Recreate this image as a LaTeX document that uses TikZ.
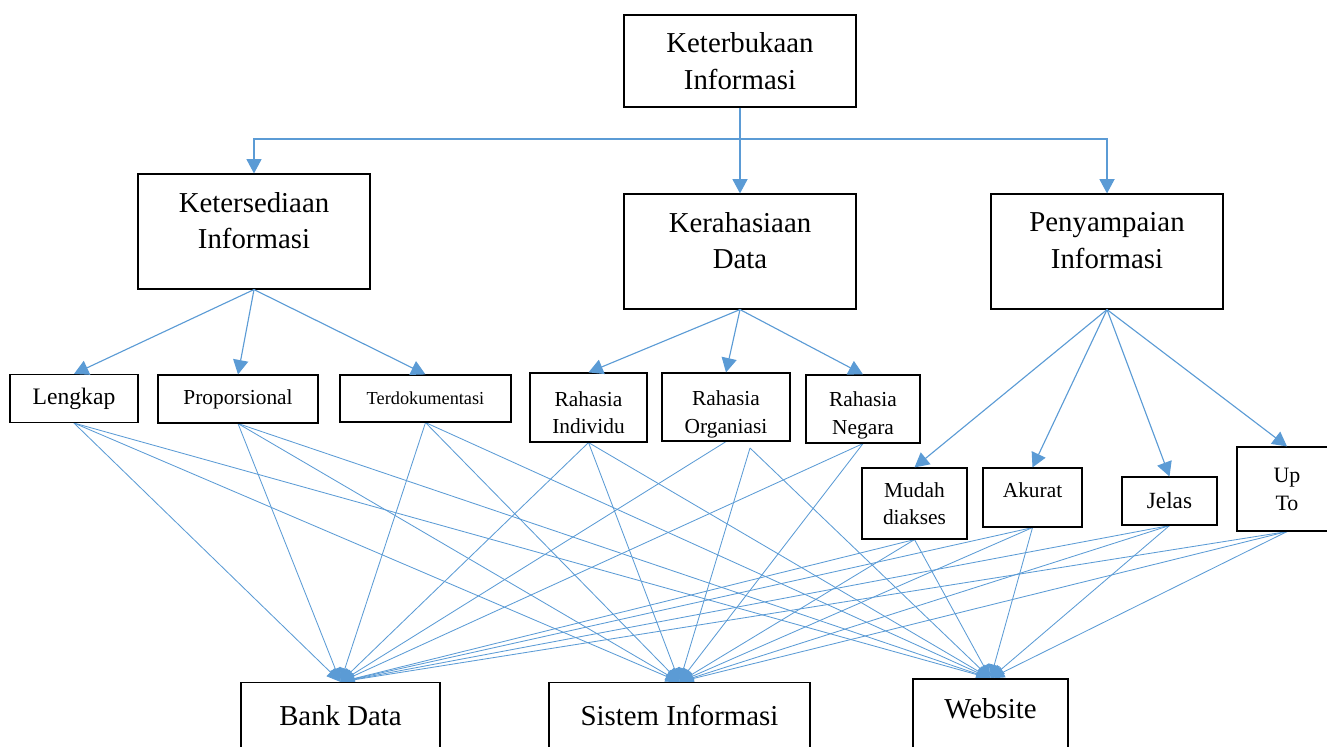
\documentclass[tikz,border=0pt]{standalone}
\usepackage{fontspec}
\setmainfont{Liberation Serif}
\usepackage{xcolor}
\usetikzlibrary{arrows.meta, positioning, backgrounds}
\definecolor{linkblue}{HTML}{5B9BD5}

\begin{document}
\begin{tikzpicture}[
                x=0.025cm, y=-0.025cm,
                box/.style={rectangle, draw=black, line width=0.8pt, fill=white, align=center, inner sep=0pt},
                mainbox/.style={box, minimum width=5.8cm, font=\fontsize{20.5}{26}\selectfont},
                subbox/.style={box, font=\fontsize{15.2}{19.5}\selectfont},
                outbox/.style={box, font=\fontsize{20.5}{25.5}\selectfont},
                link/.style={draw=linkblue, line width=0.8pt, -{Triangle[length=3.6mm, width=3.8mm]}},
                feed/.style={draw=linkblue, line width=0.6pt, -{Triangle[length=3.5mm, width=2.8mm]}}
                ]
                \useasboundingbox (0,0) rectangle (1327,747);

                % Top and second level
                \node[mainbox, minimum height=2.3cm] (keterbukaan) at (740,61) {Keterbukaan\\Informasi};
                \node[mainbox, minimum height=2.875cm, text depth=0.56cm] (ketersediaan) at (254,231.5) {Ketersediaan\\Informasi};
                \node[mainbox, minimum height=2.875cm, text depth=0.56cm] (kerahasiaan) at (740,251.5) {Kerahasiaan\\Data};
                \node[mainbox, minimum height=2.875cm, text depth=0.56cm] (penyampaian) at (1107,251.5) {Penyampaian\\Informasi};

                % Branching from the top box
                \coordinate (split) at (740,139);
                \draw[draw=linkblue, line width=0.8pt] (keterbukaan.south) -- (split);
                \draw[link] (split) -| (ketersediaan.north);
                \draw[link] (split) -- (kerahasiaan.north);
                \draw[link] (split) -| (penyampaian.north);

                % Third level
                \node[subbox, minimum width=3.2cm, minimum height=1.2cm, font=\fontsize{16.8}{20}\selectfont] (lengkap) at (74,398.5) {Lengkap};
                \node[subbox, minimum width=4cm, minimum height=1.2cm] (proporsional) at (238,399) {Proporsional};
                \node[subbox, minimum width=4.275cm, minimum height=1.175cm, font=\fontsize{13}{16}\selectfont] (terdokumentasi) at (425.5,398.5) {Terdokumentasi};
                \node[subbox, minimum width=2.925cm, minimum height=1.725cm, text height=1.32cm] (individu) at (588.5,407.5) {Rahasia\\Individu};
                \node[subbox, minimum width=3.2cm, minimum height=1.7cm, text height=1.42cm] (organiasi) at (726,407) {Rahasia\\Organiasi};
                \node[subbox, minimum width=2.85cm, minimum height=1.7cm, text height=1.37cm] (negara) at (863,409) {Rahasia\\Negara};
                \node[subbox, minimum width=2.625cm, minimum height=1.775cm] (mudah) at (914.5,503.5) {Mudah\\diakses};
                \node[subbox, minimum width=2.475cm, minimum height=1.475cm, text depth=0.35cm] (akurat) at (1032.5,497.5) {Akurat};
                \node[subbox, minimum width=2.375cm, minimum height=1.2cm, font=\fontsize{16.5}{20}\selectfont] (jelas) at (1169.5,501) {Jelas};
                \node[subbox, minimum width=2.5cm, minimum height=2.1cm, font=\fontsize{15.6}{20}\selectfont] (upto) at (1287,489) {Up\\To};

                \draw[link] (ketersediaan.south) -- (lengkap.north);
                \draw[link] (ketersediaan.south) -- (proporsional.north);
                \draw[link] (ketersediaan.south) -- (terdokumentasi.north);
                \draw[link] (kerahasiaan.south) -- (individu.north);
                \draw[link] (kerahasiaan.south) -- (organiasi.north);
                \draw[link] (kerahasiaan.south) -- (negara.north);
                \draw[link] (penyampaian.south) -- (mudah.north);
                \draw[link] (penyampaian.south) -- (akurat.north);
                \draw[link] (penyampaian.south) -- (jelas.north);
                \draw[link] (penyampaian.south) -- (upto.north);

                % Bottom level, cut by the page edge
                \node[outbox, minimum width=4.975cm, minimum height=1.65cm] (bank) at (340.5,715.5) {Bank Data};
                \node[outbox, minimum width=6.525cm, minimum height=1.65cm] (sistem) at (679.5,715.5) {Sistem Informasi};
                \node[outbox, minimum width=3.875cm, minimum height=1.75cm, text depth=0.3cm] (website) at (990.5,714) {Website};

                % loose start point under Rahasia Organiasi
                \coordinate (orgapex) at (750,448);

                % Items feed the outputs (behind the boxes)
                \begin{scope}[on background layer]
                \draw[feed] (lengkap.south) -- (bank.north);
                \draw[feed] (lengkap.south) -- (sistem.north);
                \draw[feed] (lengkap.south) -- (website.north);
                \draw[feed] (proporsional.south) -- (bank.north);
                \draw[feed] (proporsional.south) -- (sistem.north);
                \draw[feed] (proporsional.south) -- (website.north);
                \draw[feed] (terdokumentasi.south) -- (bank.north);
                \draw[feed] (terdokumentasi.south) -- (sistem.north);
                \draw[feed] (terdokumentasi.south) -- (website.north);
                \draw[feed] (individu.south) -- (bank.north);
                \draw[feed] (individu.south) -- (sistem.north);
                \draw[feed] (individu.south) -- (website.north);
                \draw[feed] (organiasi.south) -- (bank.north);
                \draw[feed] (orgapex) -- (sistem.north);
                \draw[feed] (orgapex) -- (website.north);
                \draw[feed] (negara.south) -- (bank.north);
                \draw[feed] (negara.south) -- (sistem.north);
                \draw[feed] (mudah.south) -- (bank.north);
                \draw[feed] (mudah.south) -- (sistem.north);
                \draw[feed] (mudah.south) -- (website.north);
                \draw[feed] (akurat.south) -- (bank.north);
                \draw[feed] (akurat.south) -- (sistem.north);
                \draw[feed] (akurat.south) -- (website.north);
                \draw[feed] (jelas.south) -- (bank.north);
                \draw[feed] (jelas.south) -- (sistem.north);
                \draw[feed] (jelas.south) -- (website.north);
                \draw[feed] (upto.south) -- (bank.north);
                \draw[feed] (upto.south) -- (sistem.north);
                \draw[feed] (upto.south) -- (website.north);
                \end{scope}

\end{tikzpicture}
\end{document}
